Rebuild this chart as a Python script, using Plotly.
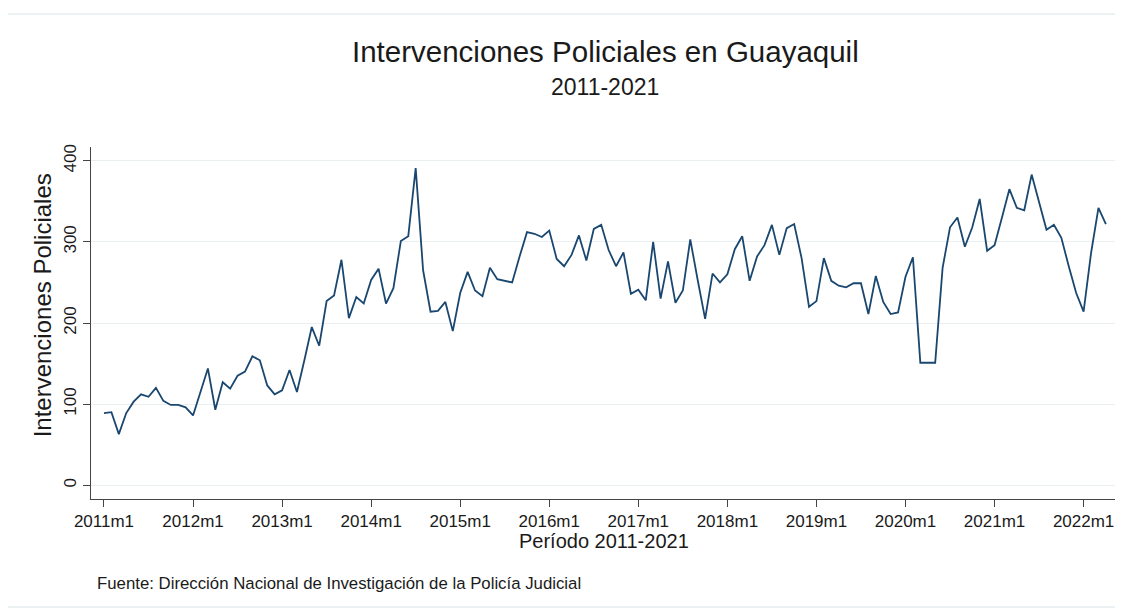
import plotly.graph_objects as go

# Monthly police interventions, Guayaquil, 2011m1 .. 2022m4
years = list(range(2011, 2023))
values = [
    # 2011
    89, 90, 63, 89, 103, 112, 109, 120, 104, 99, 99, 96,
    # 2012
    86, 115, 144, 93, 127, 119, 135, 140, 159, 154, 123, 112,
    # 2013
    117, 142, 115, 154, 195, 172, 227, 234, 278, 206, 232, 224,
    # 2014
    253, 267, 224, 243, 301, 307, 391, 265, 214, 215, 226, 190,
    # 2015
    237, 263, 240, 233, 268, 254, 252, 250, 282, 312, 310, 306,
    # 2016
    314, 279, 270, 284, 308, 277, 316, 321, 290, 270, 287, 236,
    # 2017
    241, 228, 300, 230, 276, 225, 240, 303, 253, 205, 261, 250,
    # 2018
    260, 291, 307, 252, 282, 296, 321, 284, 317, 322, 280, 220,
    # 2019
    227, 280, 252, 246, 244, 249, 249, 211, 258, 226, 211, 213,
    # 2020
    257, 281, 151, 151, 151, 268, 318, 330, 294, 318, 353, 289,
    # 2021
    296, 330, 365, 342, 339, 383, 350, 315, 321, 305, 270, 237,
    # 2022
    214, 286, 342, 322,
]
month_index = list(range(len(values)))
period_labels = [f"{y}m{m}" for y in years for m in range(1, 13)][: len(values)]

tick_vals = [12 * i for i in range(len(years))]
tick_text = [f"{y}m1" for y in years]
y_ticks = [0, 100, 200, 300, 400]

FONT = "Liberation Sans, Arial, sans-serif"
TXT = "#1a1a1a"

fig = go.Figure()
fig.add_trace(
    go.Scatter(
        x=month_index,
        y=values,
        mode="lines",
        line=dict(color="#1a476f", width=1.8),
        customdata=period_labels,
        hovertemplate="%{customdata}: %{y}<extra></extra>",
    )
)

fig.update_layout(
    width=1115,
    height=600,
    margin=dict(l=83, r=6, t=139, b=109),
    paper_bgcolor="white",
    plot_bgcolor="white",
    showlegend=False,
    font=dict(family=FONT, color=TXT),
    xaxis=dict(
        range=[-1.75, 136.5],
        tickvals=tick_vals,
        ticktext=tick_text,
        ticks="outside",
        ticklen=7,
        tickwidth=1,
        tickcolor="#444",
        showline=True,
        linecolor="#444",
        linewidth=1,
        showgrid=False,
        zeroline=False,
        tickfont=dict(size=17, color=TXT),
    ),
    yaxis=dict(
        range=[-17, 417],
        tickvals=y_ticks,
        ticks="outside",
        ticklen=7,
        tickwidth=1,
        tickcolor="#444",
        showline=True,
        linecolor="#444",
        linewidth=1,
        showgrid=True,
        gridcolor="#eaeff1",
        gridwidth=1,
        zeroline=False,
        tickangle=-90,
        tickfont=dict(size=17, color=TXT),
    ),
    annotations=[
        dict(text="Intervenciones Policiales en Guayaquil", x=0.501, y=1.27,
             xref="paper", yref="paper", xanchor="center", yanchor="middle",
             showarrow=False, font=dict(size=29.5, color=TXT)),
        dict(text="2011-2021", x=0.501, y=1.170,
             xref="paper", yref="paper", xanchor="center", yanchor="middle",
             showarrow=False, font=dict(size=23, color=TXT)),
        dict(text="Intervenciones Policiales", x=-0.0478, y=0.55,
             xref="paper", yref="paper", xanchor="center", yanchor="middle",
             textangle=-90, showarrow=False, font=dict(size=24, color=TXT)),
        dict(text="Período 2011-2021", x=0.5, y=-0.119,
             xref="paper", yref="paper", xanchor="center", yanchor="middle",
             showarrow=False, font=dict(size=20, color=TXT)),
        dict(text="Fuente: Dirección Nacional de Investigación de la Policía Judicial",
             x=0.0039, y=-0.239, xref="paper", yref="paper",
             xanchor="left", yanchor="middle",
             showarrow=False, font=dict(size=16.8, color=TXT)),
    ],
    shapes=[
        dict(type="rect", xref="paper", yref="paper",
             x0=(7 - 91) / 1026, x1=(1122 - 91) / 1026,
             y0=(499 - 607) / 352, y1=(499 - 14) / 352,
             line=dict(color="#e6eef0", width=1.5), fillcolor="rgba(0,0,0,0)",
             layer="below"),
    ],
)

fig.write_html("out.html")
